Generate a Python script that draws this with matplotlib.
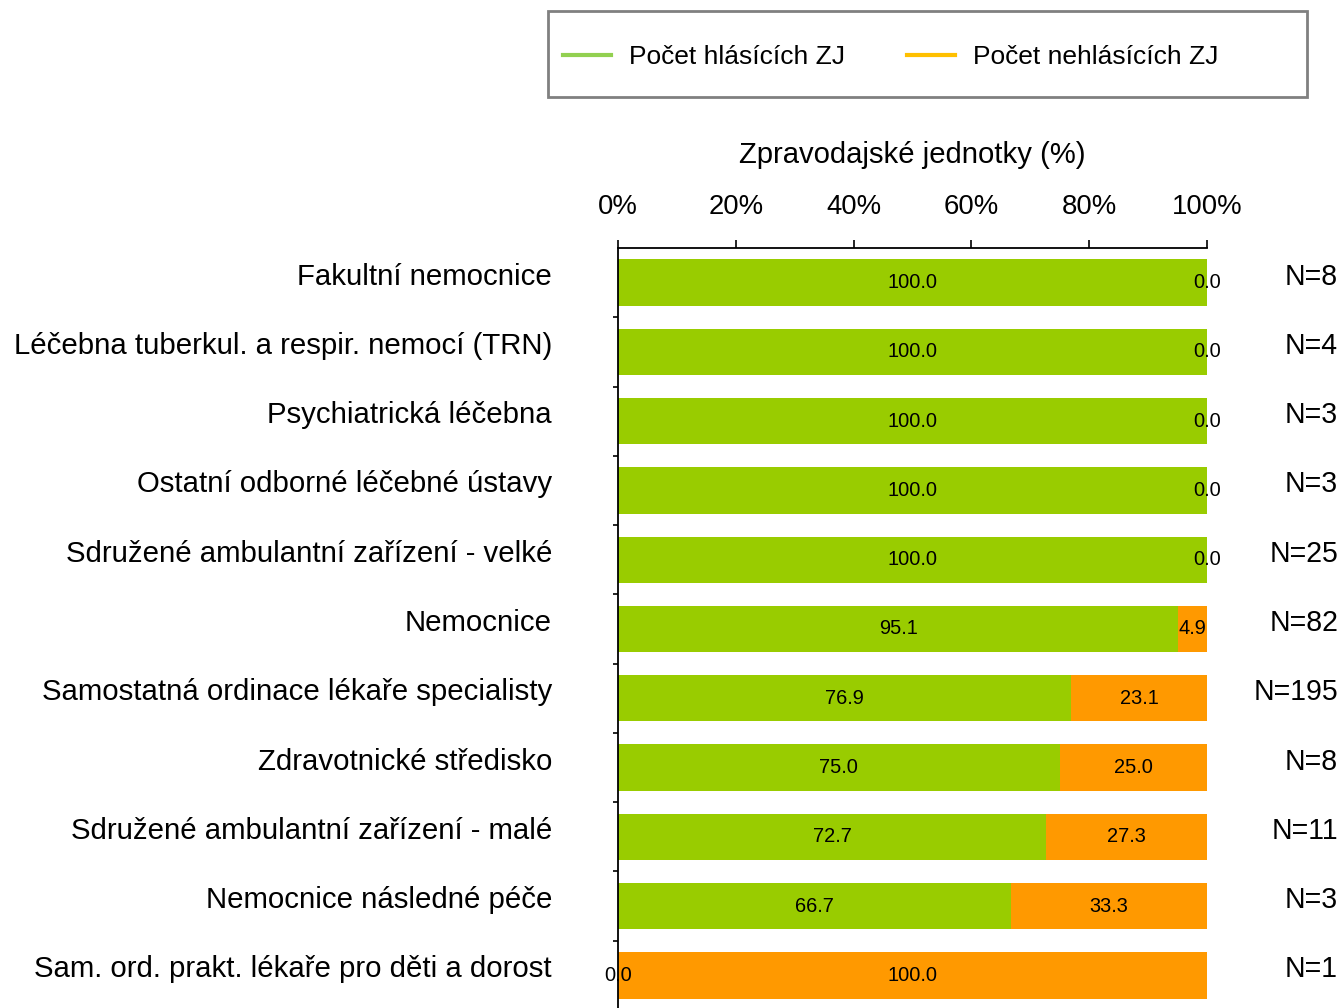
import matplotlib
matplotlib.use("Agg")
import matplotlib.pyplot as plt
from matplotlib.lines import Line2D
from matplotlib.patches import Rectangle
import matplotlib.transforms as mtransforms
import numpy as np

categories = [
    "Fakultní nemocnice",
    "Léčebna tuberkul. a respir. nemocí (TRN)",
    "Psychiatrická léčebna",
    "Ostatní odborné léčebné ústavy",
    "Sdružené ambulantní zařízení - velké",
    "Nemocnice",
    "Samostatná ordinace lékaře specialisty",
    "Zdravotnické středisko",
    "Sdružené ambulantní zařízení - malé",
    "Nemocnice následné péče",
    "Sam. ord. prakt. lékaře pro děti a dorost",
]
reporting = [100.0, 100.0, 100.0, 100.0, 100.0, 95.1, 76.9, 75.0, 72.7, 66.7, 0.0]
nonreporting = [0.0, 0.0, 0.0, 0.0, 0.0, 4.9, 23.1, 25.0, 27.3, 33.3, 100.0]
counts = [8, 4, 3, 3, 25, 82, 195, 8, 11, 3, 1]
series_names = ["Počet hlásících ZJ", "Počet nehlásících ZJ"]
xticks = [0, 20, 40, 60, 80, 100]
xtick_labels = ["0%", "20%", "40%", "60%", "80%", "100%"]
xlabel = "Zpravodajské jednotky (%)"

plt.rcParams['font.family'] = ['Liberation Sans', 'DejaVu Sans']

W, H = 1344, 1008
fig = plt.figure(figsize=(W / 100, H / 100), dpi=100)
px = 72 / 100  # points per pixel

ax_left, ax_right, ax_top, ax_bottom = 618, 1207, 248, 1010
ax = fig.add_axes([ax_left / W, (H - ax_bottom) / H, (ax_right - ax_left) / W, (ax_bottom - ax_top) / H])

GREEN = "#99CC00"
ORANGE = "#FF9900"

y = np.arange(len(categories))
bh = 0.67
b1 = ax.barh(y, reporting, height=bh, color=GREEN, linewidth=0)
b2 = ax.barh(y, nonreporting, left=reporting, height=bh, color=ORANGE, linewidth=0)
ax.bar_label(b1, fmt="%.1f", label_type="center", fontsize=20 * px)
ax.bar_label(b2, fmt="%.1f", label_type="center", fontsize=20 * px)

ax.set_xlim(0, 100)
ax.set_ylim(len(categories) - 0.5, -0.5)

# spines
for s in ["right", "bottom"]:
    ax.spines[s].set_visible(False)
for s in ["top", "left"]:
    ax.spines[s].set_linewidth(1.3)
    ax.spines[s].set_color("black")

# top axis
ax.xaxis.tick_top()
ax.xaxis.set_label_position("top")
ax.set_xticks(xticks)
ax.set_xticklabels(xtick_labels)
ax.tick_params(axis="x", direction="out", length=8 * px, width=1.2, pad=20 * px,
               labelsize=27.5 * px)
ax.set_xlabel(xlabel, fontsize=29.2 * px, labelpad=31 * px)

# y axis: labels at centers, ticks at boundaries
ax.set_yticks(y)
ax.set_yticklabels(categories)
ax.tick_params(axis="y", which="major", length=0, pad=66 * px, labelsize=29.4 * px)
ax.set_yticks(np.arange(len(categories) - 1) + 0.5, minor=True)
ax.tick_params(axis="y", which="minor", direction="out", length=5 * px, width=1.2)
shift = mtransforms.ScaledTranslation(0, -2 / 100, fig.dpi_scale_trans)
for lab in ax.get_yticklabels():
    lab.set_verticalalignment("baseline")
    lab.set_transform(lab.get_transform() + shift)

# N labels
for i, n in enumerate(counts):
    ax.annotate(f"N={n}", xy=(1, i), xycoords=("axes fraction", "data"),
                xytext=(131 * px, -2 * px), textcoords="offset points",
                ha="right", va="baseline", fontsize=28.5 * px)

# legend box + legend
fig.patches.append(Rectangle((548 / W, 1 - 97 / H), (1307 - 548) / W, (97 - 11) / H,
                             transform=fig.transFigure, fill=False,
                             edgecolor="#808080", linewidth=2, zorder=5))
handles = [Line2D([], [], color="#92D050", lw=3),
           Line2D([], [], color="#FFC000", lw=3)]
leg = fig.legend(handles, series_names, loc="center left",
                 bbox_to_anchor=(563 / W, 1 - 57 / H),
                 ncol=2, fontsize=26.4 * px, frameon=False,
                 handlelength=1.82, handletextpad=0.68, columnspacing=2.35,
                 borderaxespad=0, borderpad=0)

fig.savefig("out.png", dpi=100)
